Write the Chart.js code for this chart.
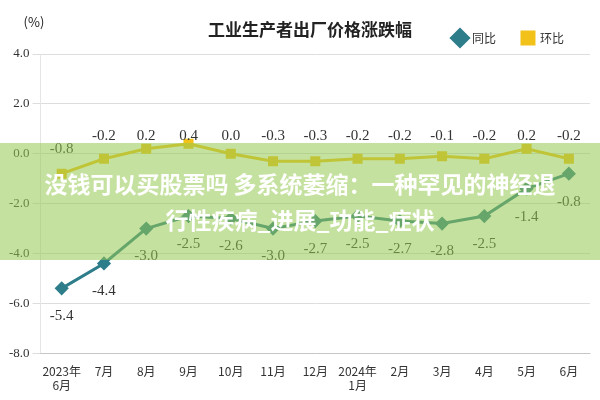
<!DOCTYPE html>
<html><head><meta charset="utf-8">
<script src="https://cdn.jsdelivr.net/npm/chart.js@4/dist/chart.umd.min.js"></script>
<style>
body{margin:0;background:#fff;font-family:"Noto Sans CJK SC",sans-serif}
#wrap{position:relative;width:600px;height:400px}
#band{position:absolute;left:0;top:143px;width:600px;height:117px;background:rgba(150,200,80,0.55);color:#fff;font-weight:bold;font-size:23px;text-align:center;line-height:36px;padding-top:22px;box-sizing:border-box;white-space:nowrap}
</style></head><body>
<div id="wrap"><canvas id="c" width="600" height="400"></canvas>
<div id="band">没钱可以买股票吗 多系统萎缩：一种罕见的神经退<br>行性疾病_进展_功能_症状</div></div>
<script>
const months = [['2023年','6月'],'7月','8月','9月','10月','11月','12月',['2024年','1月'],'2月','3月','4月','5月','6月']
const yoy = [-5.4,-4.4,-3.0,-2.5,-2.6,-3.0,-2.7,-2.5,-2.7,-2.8,-2.5,-1.4,-0.8]
const mom = [-0.8,-0.2,0.2,0.4,0.0,-0.3,-0.3,-0.2,-0.2,-0.1,-0.2,0.2,-0.2]

const labelPlugin = {
    id: 'vals',
    afterDatasetsDraw(chart) {
        const ctx = chart.ctx
        const y = chart.scales.y
        ctx.save()
        ctx.font = '15px "Liberation Serif", serif'
        ctx.fillStyle = '#333'
        ctx.textAlign = 'center'
        chart.getDatasetMeta(0).data.forEach((p, i) => {
            ctx.fillText(yoy[i].toFixed(1), p.x, p.y + 28)
        })
        chart.getDatasetMeta(1).data.forEach((p, i) => {
            const top = i === 0 ? y.getPixelForValue(0.2) : y.getPixelForValue(0.7)
            ctx.fillText(mom[i].toFixed(1), p.x, top)
        })
        ctx.font = 'bold 17px "Noto Sans CJK SC"'
        ctx.fillStyle = '#222'
        ctx.fillText('工业生产者出厂价格涨跌幅', 310, 30)
        ctx.font = '13px "Noto Sans CJK SC"'
        ctx.fillText('(%)', 34, 22)
        ctx.restore()
    }
}

new Chart(document.getElementById('c'), {
    type: 'line',
    data: {
        labels: months,
        datasets: [
            { label: '同比', data: yoy, borderColor: '#2e7d8a', backgroundColor: '#2e7d8a', borderWidth: 3, pointStyle: 'rectRot', pointRadius: 5, tension: 0 },
            { label: '环比', data: mom, borderColor: '#f2c21a', backgroundColor: '#f2c21a', borderWidth: 3, pointStyle: 'rect', pointRadius: 5, tension: 0 },
        ],
    },
    options: {
        responsive: false,
        animation: false,
        layout: { padding: { top: 6, right: 10, left: 6, bottom: 4 } },
        plugins: {
            legend: { position: 'top', align: 'end', labels: { usePointStyle: true, boxWidth: 30, padding: 26, font: { size: 12, family: 'Noto Sans CJK SC' }, color: '#333' } },
            tooltip: { enabled: false },
        },
        scales: {
            x: { offset: true, grid: { display: false }, ticks: { autoSkip: false, font: { size: 12, family: 'Noto Sans CJK SC' }, color: '#333', maxRotation: 0 } },
            y: { min: -8, max: 4, ticks: { stepSize: 2, callback: v => v.toFixed(1), font: { size: 13, family: 'Liberation Serif' }, color: '#333' }, grid: { color: '#ddd' } },
        },
    },
    plugins: [labelPlugin],
})
</script></body></html>
